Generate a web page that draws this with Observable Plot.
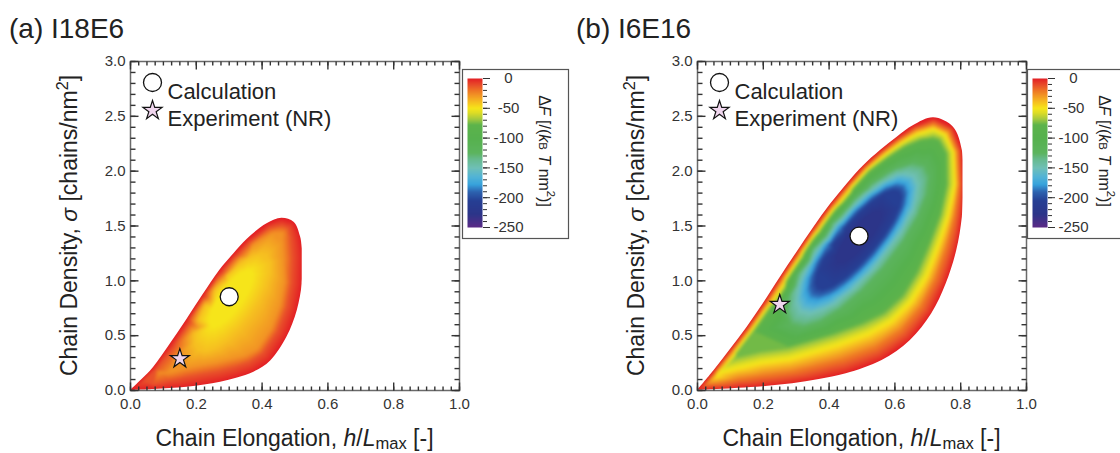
<!DOCTYPE html>
<html><head><meta charset="utf-8">
<script src="https://cdn.jsdelivr.net/npm/d3@7"></script>
<script src="https://cdn.jsdelivr.net/npm/@observablehq/plot@0.6"></script>
<style>
html,body{margin:0;padding:0;background:#fff;}
#root{position:relative;width:1120px;height:453px;overflow:hidden;font-family:"Liberation Sans",Arial,sans-serif;}
#root svg{position:absolute;}
</style></head><body><div id="root"></div>
<script>
const xDomain = [0, 1];
const yDomain = [0, 3];
const xMajor = [0, 0.2, 0.4, 0.6, 0.8, 1.0];
const yMajor = [0, 0.5, 1.0, 1.5, 2.0, 2.5, 3.0];
const xMinorStep = 0.025;
const yMinorStep = 0.1;
const cbMajor = [0, -50, -100, -150, -200, -250];
const cbMinorStep = 10;
const cbDomain = [-250, 0];

const cmapValues = [-250, -228, -205, -190, -178, -165, -150, -135, -125, -100, -78, -68, -58, -50, -40, -28, -20, -12, 0];
const cmapColors = ["#5b2a86", "#2c3589", "#263f94", "#2d63b0", "#37a3dc", "#52b3d6", "#6fc0b6", "#66ba8c", "#5cb45e", "#56b14e", "#5cb34b", "#a5ca3d", "#dcdc25", "#f6e51a", "#f6c020", "#f29324", "#ee7424", "#e9522a", "#e31e25"];

const panelTitles = ["(a) I18E6", "(b) I6E16"];
const legendLabels = ["Calculation", "Experiment (NR)"];

const aUpperX = [0, 0.035, 0.07, 0.12, 0.17, 0.22, 0.27, 0.315, 0.355, 0.415, 0.46, 0.497, 0.517, 0.525];
const aUpperY = [0, 0.10, 0.21, 0.42, 0.64, 0.87, 1.09, 1.25, 1.38, 1.52, 1.57, 1.535, 1.40, 1.22];
const aLowerX = [0, 0.07, 0.12, 0.172, 0.225, 0.274, 0.325, 0.375, 0.426, 0.476, 0.507, 0.522, 0.525];
const aLowerY = [0, 0.01, 0.018, 0.03, 0.05, 0.076, 0.115, 0.167, 0.27, 0.49, 0.73, 0.97, 1.22];
const aBandLevels = [-12, -28];
const aUpperDepths = [
  [null, 2, 3, 5, 5, 4, 4, 4, 4, 5, 7, 8, 10, 11],
  [null, null, 7, 13, 13, 8, 7, 7, 8, 11, 15, 17, 19, 20]
];
const aLowerDepths = [
  [null, 5, 8, 10, 11, 11, 11, 11, 11, 11, 11, 11, null],
  [null, null, 16, 19, 20, 20, 20, 19, 18, 18, 18, 18, null]
];
const aEllLevels = [-40, -50];
const aEllCx = [0.31, 0.305];
const aEllCy = [0.80, 0.84];
const aEllA = [58, 34];
const aEllB = [22, 11];
const aEllAngle = [54, 54];
const aCalc = [0.30, 0.855];
const aExp = [0.15, 0.29];

const bUpperX = [0, 0.05, 0.10, 0.151, 0.20, 0.252, 0.30, 0.354, 0.405, 0.455, 0.505, 0.556, 0.607, 0.657, 0.718, 0.778, 0.805, 0.81];
const bUpperY = [0, 0.18, 0.375, 0.577, 0.79, 1.033, 1.25, 1.489, 1.70, 1.884, 2.05, 2.188, 2.31, 2.416, 2.486, 2.40, 2.188, 1.884];
const bLowerX = [0, 0.06, 0.126, 0.2, 0.289, 0.37, 0.452, 0.561, 0.647, 0.712, 0.756, 0.788, 0.805, 0.81];
const bLowerY = [0, 0.008, 0.021, 0.035, 0.061, 0.10, 0.152, 0.273, 0.456, 0.699, 0.973, 1.276, 1.58, 1.884];
const bBandLevels = [-22, -50, -75];
const bUpperDepths = [
  [null, 2, 2.5, 2.5, 2.5, 2.5, 2.5, 2.5, 2.5, 2.5, 2.5, 3, 3.5, 4.5, 6, 6, 5, 5],
  [null, 4.5, 5, 5, 5, 5, 5, 5, 5, 5, 5, 6, 7, 9, 11, 11, 9, 9],
  [null, null, 8, 8, 8, 8, 8, 8, 8, 8, 8, 10, 12, 16, 20, 19, 16, 17]
];
const bLowerDepths = [
  [null, 6, 9, 11, 12, 14, 15, 15, 14, 13, 12, 11, 8, null],
  [null, 13, 20, 24, 25, 28, 30, 30, 27, 24, 21, 19, 14, null],
  [null, null, 32, 36, 37, 40, 42, 42, 38, 34, 31, 28, 22, null]
];
const bEllLevels = [-125, -150, -178, -205, -228];
const bEllCx = [0.488, 0.485, 0.486, 0.489, 0.491];
const bEllCy = [1.326, 1.34, 1.36, 1.375, 1.40];
const bEllA = [104, 88, 75, 63, 32];
const bEllB = [34, 28, 23, 18, 9];
const bEllAngle = [50, 50, 50, 50, 50];
const bCalc = [0.491, 1.407];
const bExp = [0.25, 0.784];

const FONT = '"Liberation Sans", Arial, sans-serif';
const PW = 560, PH = 453, ML = 130, MR = 101, MT = 61, MB = 63;
const FW = PW - ML - MR, FH = PH - MT - MB;
const SX = FW / (xDomain[1] - xDomain[0]), SY = FH / (yDomain[1] - yDomain[0]);
const panelOffsets = [0, 567];
const cbOffsets = [462, 1027];
const cbTitleDx = [83, 78];
const colorScale = {type: "linear", domain: cmapValues, range: cmapColors, clamp: true};
const root = d3.select("#root");

function minorTicks(domain, step) {
  return d3.range(Math.round((domain[1] - domain[0]) / step) + 1).map(i => +(domain[0] + i * step).toFixed(4));
}
function chainOffsets(cx, cy, depths, side) {
  const out = [];
  for (let j = 0; j < cx.length; j++) {
    const d = depths[j];
    if (d == null) continue;
    const j0 = Math.max(0, j - 1), j1 = Math.min(cx.length - 1, j + 1);
    const tx = (cx[j1] - cx[j0]) * SX, ty = (cy[j1] - cy[j0]) * SY;
    const L = Math.hypot(tx, ty);
    const nx = side * ty / L, ny = -side * tx / L;
    out.push([cx[j] + d * nx / SX, cy[j] + d * ny / SY]);
  }
  return out;
}
function ellipsePts(cx, cy, a, b, angDeg, n = 20) {
  const phi = angDeg * Math.PI / 180, out = [];
  for (let i = 0; i < n; i++) {
    const t = 2 * Math.PI * i / n;
    const u = a * Math.cos(t), v = b * Math.sin(t);
    out.push([cx + (u * Math.cos(phi) - v * Math.sin(phi)) / SX, cy + (u * Math.sin(phi) + v * Math.cos(phi)) / SY]);
  }
  return out;
}

function panel(p) {
  const pts = [];
  p.upperX.forEach((x, i) => pts.push({x, y: p.upperY[i], v: 0}));
  p.lowerX.forEach((x, i) => { if (i > 0 && i < p.lowerX.length - 1) pts.push({x, y: p.lowerY[i], v: 0}); });
  p.bandLevels.forEach((lev, k) => {
    chainOffsets(p.upperX, p.upperY, p.upperDepths[k], 1).forEach(([x, y]) => pts.push({x, y, v: lev}));
    chainOffsets(p.lowerX, p.lowerY, p.lowerDepths[k], -1).forEach(([x, y]) => pts.push({x, y, v: lev}));
  });
  p.ellLevels.forEach((lev, k) => {
    ellipsePts(p.ellCx[k], p.ellCy[k], p.ellA[k], p.ellB[k], p.ellAngle[k]).forEach(([x, y]) => pts.push({x, y, v: lev}));
  });
  pts.push({x: p.calc[0], y: p.calc[1], v: p.ellLevels[p.ellLevels.length - 1]});
  const upper = p.upperX.map((x, i) => ({x, y: p.upperY[i]}));
  const lower = p.lowerX.map((x, i) => ({x, y: p.lowerY[i]}));
  const xEnd = d3.max(p.upperX);
  const xMin = minorTicks(xDomain, xMinorStep), yMin = minorTicks(yDomain, yMinorStep);
  const ky = 1 / SY, kx = 1 / SX;
  const tickData = [];
  xMin.forEach(v => { tickData.push({x1: v, x2: v, y1: yDomain[0], y2: yDomain[0] + 4 * ky}); tickData.push({x1: v, x2: v, y1: yDomain[1] - 4 * ky, y2: yDomain[1]}); });
  xMajor.forEach(v => { tickData.push({x1: v, x2: v, y1: yDomain[0], y2: yDomain[0] + 8 * ky}); tickData.push({x1: v, x2: v, y1: yDomain[1] - 8 * ky, y2: yDomain[1]}); });
  yMin.forEach(v => { tickData.push({y1: v, y2: v, x1: xDomain[0], x2: xDomain[0] + 5 * kx}); tickData.push({y1: v, y2: v, x1: xDomain[1] - 5 * kx, x2: xDomain[1]}); });
  yMajor.forEach(v => { tickData.push({y1: v, y2: v, x1: xDomain[0], x2: xDomain[0] + 8 * kx}); tickData.push({y1: v, y2: v, x1: xDomain[1] - 8 * kx, x2: xDomain[1]}); });
  return Plot.plot({
    width: PW, height: PH, marginLeft: ML, marginRight: MR, marginTop: MT, marginBottom: MB,
    style: {background: "transparent", overflow: "visible", fontFamily: FONT, maxWidth: "none"},
    x: {domain: xDomain, axis: null},
    y: {domain: yDomain, axis: null},
    color: colorScale,
    marks: [
      Plot.raster(pts, {x: "x", y: "y", fill: "v", interpolate: "barycentric", x1: xDomain[0], x2: xDomain[1], y1: yDomain[0], y2: yDomain[1], pixelSize: 1, blur: 1}),
      Plot.areaY(upper, {x: "x", y1: "y", y2: yDomain[1], fill: "white", curve: "catmull-rom"}),
      Plot.areaY(lower, {x: "x", y1: yDomain[0], y2: "y", fill: "white", curve: "catmull-rom"}),
      Plot.rect([xEnd], {x1: d => d, x2: xDomain[1], y1: yDomain[0], y2: yDomain[1], fill: "white", insetLeft: -1}),
      Plot.frame({stroke: "#6a6a6a", strokeWidth: 1.5}),
      Plot.axisX({ticks: xMajor, tickSize: 0, tickPadding: 8, tickFormat: d3.format(".1f"), fontSize: 15, fill: "#333", label: null}),
      Plot.axisY({ticks: yMajor, tickSize: 0, tickPadding: 5, tickFormat: d3.format(".1f"), fontSize: 15, fill: "#333", label: null}),
      Plot.dot([p.calc], {x: d => d[0], y: d => d[1], r: 9, fill: "white", stroke: "#111", strokeWidth: 1.3}),
      Plot.dot([p.exp], {x: d => d[0], y: d => d[1], symbol: "star", r: 6, fill: "#f0d6ee", stroke: "#111", strokeWidth: 1.2}),
      Plot.dot([0], {frameAnchor: "top-left", dx: 22, dy: 21, r: 9, fill: "white", stroke: "#111", strokeWidth: 1.3}),
      Plot.dot([0], {frameAnchor: "top-left", dx: 22, dy: 49, symbol: "star", r: 6, fill: "#f0d6ee", stroke: "#111", strokeWidth: 1.2}),
      Plot.text([legendLabels[0]], {frameAnchor: "top-left", dx: 37, dy: 22, text: d => d, textAnchor: "start", fontSize: 22, fill: "#222"}),
      Plot.text([legendLabels[1]], {frameAnchor: "top-left", dx: 37, dy: 49, text: d => d, textAnchor: "start", fontSize: 22, fill: "#222"}),
      Plot.link(tickData, {x1: "x1", x2: "x2", y1: "y1", y2: "y2", stroke: "#333333", strokeWidth: 1.4})
    ]
  });
}

function colorbar() {
  return Plot.plot({
    width: 106, height: 169, marginLeft: 5, marginRight: 86, marginTop: 9, marginBottom: 11,
    style: {background: "transparent", overflow: "visible", fontFamily: FONT, maxWidth: "none"},
    x: {domain: [0, 1], axis: null},
    y: {domain: cbDomain, axis: null},
    color: colorScale,
    marks: [
      Plot.raster({fill: (x, y) => y, x1: 0, x2: 1, y1: cbDomain[0], y2: cbDomain[1], pixelSize: 1}),
      Plot.axisY({anchor: "right", ticks: minorTicks(cbDomain, cbMinorStep), tickSize: 4, tickFormat: () => "", stroke: "#333", label: null}),
      Plot.axisY({anchor: "right", ticks: cbMajor, tickSize: 7, tickPadding: 19, textAnchor: "middle", tickFormat: d => String(d), fontSize: 15, fill: "#333", stroke: "#333", label: null})
    ]
  });
}

const panels = [
  {upperX: aUpperX, upperY: aUpperY, lowerX: aLowerX, lowerY: aLowerY, bandLevels: aBandLevels, upperDepths: aUpperDepths, lowerDepths: aLowerDepths,
   ellLevels: aEllLevels, ellCx: aEllCx, ellCy: aEllCy, ellA: aEllA, ellB: aEllB, ellAngle: aEllAngle, calc: aCalc, exp: aExp},
  {upperX: bUpperX, upperY: bUpperY, lowerX: bLowerX, lowerY: bLowerY, bandLevels: bBandLevels, upperDepths: bUpperDepths, lowerDepths: bLowerDepths,
   ellLevels: bEllLevels, ellCx: bEllCx, ellCy: bEllCy, ellA: bEllA, ellB: bEllB, ellAngle: bEllAngle, calc: bCalc, exp: bExp}
];

panels.forEach((p, i) => {
  const el = panel(p);
  el.style.left = panelOffsets[i] + "px"; el.style.top = "0px";
  root.node().appendChild(el);
});
cbOffsets.forEach(off => {
  const el = colorbar();
  el.style.left = off + "px"; el.style.top = "69px";
  root.node().appendChild(el);
});

const ov = root.append("svg").attr("width", 1120).attr("height", 453).style("left", "0px").style("top", "0px")
  .style("font-family", FONT).attr("fill", "#222");

function rich(x, y, parts, size, opts = {}) {
  const t = ov.append("text").attr("x", x).attr("y", y).attr("font-size", size)
    .attr("text-anchor", opts.anchor || "middle");
  if (opts.rotate) t.attr("transform", `rotate(${opts.rotate},${x},${y})`);
  if (opts.baseline) t.attr("dominant-baseline", opts.baseline);
  let shift = 0;
  parts.forEach(([s, st]) => {
    const sp = t.append("tspan").text(s);
    let target = 0;
    if (st && st.includes("i")) sp.attr("font-style", "italic");
    if (st && st.includes("sub")) { target = size * 0.15; sp.attr("font-size", size * 0.72); }
    if (st && st.includes("sup")) { target = -size * 0.4; sp.attr("font-size", size * 0.7); }
    if (target !== shift) { sp.attr("dy", target - shift); shift = target; }
  });
  return t;
}

panelOffsets.forEach((off, i) => {
  rich(9 + off, 38, [[panelTitles[i]]], 28, {anchor: "start"});
  rich(ML + FW / 2 + off, 446, [["Chain Elongation, "], ["h", "i"], ["/"], ["L", "i"], ["max", "sub"], [" [-]"]], 23);
  rich(77 + off, MT + FH / 2, [["Chain Density, "], ["σ", "i"], [" [chains/nm"], ["2", "sup"], ["]"]], 23, {rotate: -90});
});
cbOffsets.forEach((off, i) => {
  ov.append("rect").attr("x", off + 0.5).attr("y", 69.5).attr("width", 106).attr("height", 169)
    .attr("fill", "none").attr("stroke", "#555").attr("stroke-width", 1.2);
  rich(off + cbTitleDx[i], 151, [["Δ"], ["F", "i"], [" [/("], ["k", "i"], ["B", "sub"], [" "], ["T", "i"], [" nm"], ["2", "sup"], [")]"]], 16, {rotate: 90, baseline: "central"});
});
</script></body></html>
